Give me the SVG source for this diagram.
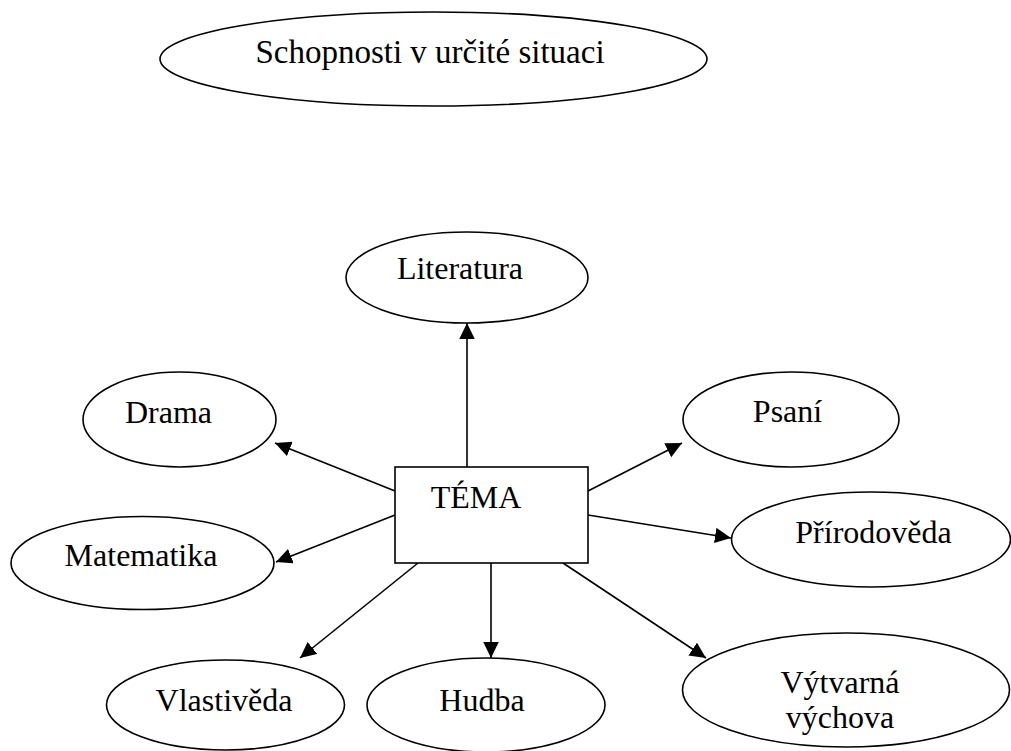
<svg xmlns="http://www.w3.org/2000/svg" width="1011" height="751" viewBox="0 0 1011 751">
<style>
.n{fill:#fff;stroke:#000;stroke-width:1.6}
.t{font-family:"Liberation Serif","Times New Roman",serif;font-size:32px;fill:#000;text-anchor:middle}
.c line{stroke:#000;stroke-width:1.6;marker-end:url(#ah)}
</style>
<defs>
<marker id="ah" markerUnits="userSpaceOnUse" markerWidth="17" markerHeight="16" refX="16" refY="7.75" orient="auto">
<path d="M0,0 L16,7.75 L0,15.5 z" fill="#000"/>
</marker>
</defs>
<rect width="1011" height="751" fill="#fff"/>
<g id="schopnosti">
<ellipse class="n" cx="433.5" cy="59" rx="273.5" ry="47"/>
<text class="t" x="430" y="63" style="font-size:33px">Schopnosti v určité situaci</text>
</g>
<g id="connectors" class="c">
<line x1="467" y1="467" x2="467" y2="323"/>
<line x1="395" y1="491" x2="275" y2="443"/>
<line x1="395" y1="515" x2="276" y2="562"/>
<line x1="588" y1="491" x2="682" y2="443"/>
<line x1="588" y1="515" x2="731" y2="538"/>
<line x1="418" y1="563" x2="300" y2="658"/>
<line x1="491" y1="563" x2="491" y2="658"/>
<line x1="563" y1="563" x2="706" y2="658"/>
</g>
<g id="tema">
<rect class="n" x="395" y="467" width="193" height="96"/>
<text class="t" x="476" y="508">TÉMA</text>
</g>
<g id="literatura">
<ellipse class="n" cx="467" cy="277.5" rx="121" ry="45.5"/>
<text class="t" x="460" y="279">Literatura</text>
</g>
<g id="drama">
<ellipse class="n" cx="179.5" cy="419.5" rx="96.5" ry="47.5"/>
<text class="t" x="168.5" y="423">Drama</text>
</g>
<g id="matematika">
<ellipse class="n" cx="142.5" cy="563" rx="131.5" ry="46.5"/>
<text class="t" x="141" y="566">Matematika</text>
</g>
<g id="psani">
<ellipse class="n" cx="791" cy="419.5" rx="108" ry="47.5"/>
<text class="t" x="787.5" y="422">Psaní</text>
</g>
<g id="prirodoveda">
<ellipse class="n" cx="871" cy="539.5" rx="139.5" ry="47.5"/>
<text class="t" x="873.5" y="543">Přírodověda</text>
</g>
<g id="vlastiveda">
<ellipse class="n" cx="225.5" cy="705" rx="119" ry="45"/>
<text class="t" x="224" y="711">Vlastivěda</text>
</g>
<g id="hudba">
<ellipse class="n" cx="486" cy="705" rx="119" ry="47"/>
<text class="t" x="482" y="711">Hudba</text>
</g>
<g id="vytvarna">
<ellipse class="n" cx="846" cy="690" rx="163.5" ry="57"/>
<text class="t" x="840" y="693">Výtvarná</text>
<text class="t" x="840" y="728">výchova</text>
</g>
</svg>
